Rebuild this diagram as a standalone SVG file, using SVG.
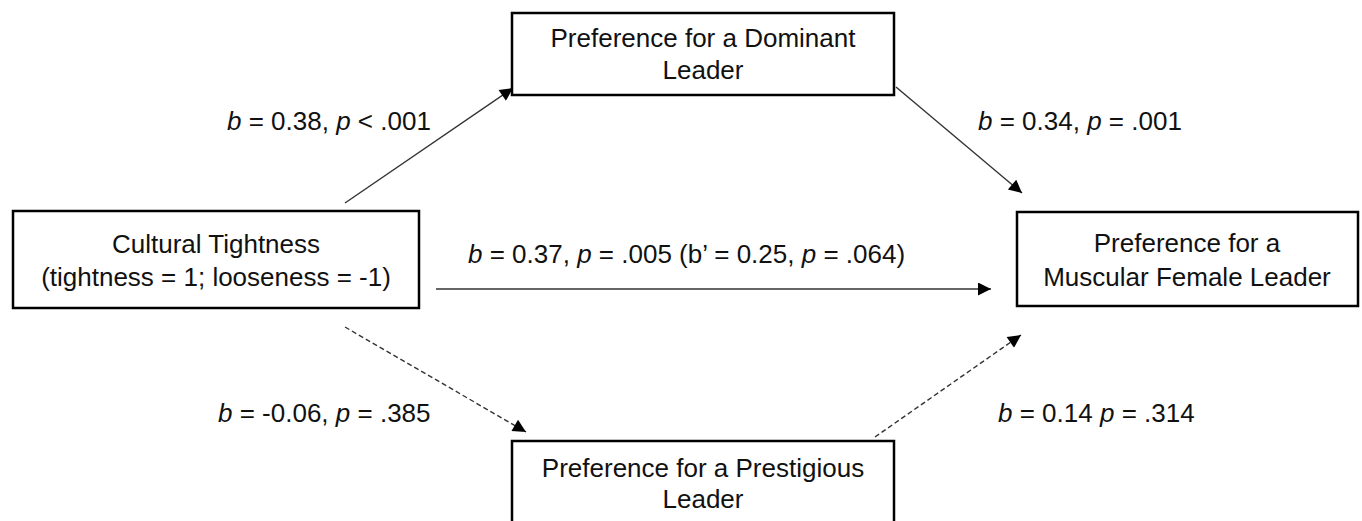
<svg xmlns="http://www.w3.org/2000/svg" width="1362" height="521" viewBox="0 0 1362 521">
<style>
  .box { fill: #fff; stroke: #000; stroke-width: 2.5; }
  .t { font-family: "Liberation Sans", Arial, sans-serif; font-size: 26px; fill: #111; }
  .c { text-anchor: middle; }
  .i { font-style: italic; }
  .ln { stroke: #333; stroke-width: 1.4; fill: none; }
  .dash { stroke-dasharray: 5 3; }
</style>
<defs>
  <marker id="ah" viewBox="0 0 10 10" refX="10" refY="5" markerUnits="userSpaceOnUse" markerWidth="17" markerHeight="13" orient="auto">
    <path d="M0,0 L10,5 L0,10 z" fill="#000"/>
  </marker>
</defs>
<g id="connectors">
  <line class="ln" x1="345" y1="203" x2="513" y2="88" marker-end="url(#ah)"/>
  <line class="ln" x1="896" y1="87" x2="1022" y2="193" marker-end="url(#ah)"/>
  <line class="ln" x1="436" y1="289" x2="991" y2="289" marker-end="url(#ah)"/>
  <line class="ln dash" x1="345" y1="327" x2="526" y2="432" marker-end="url(#ah)"/>
  <line class="ln dash" x1="875" y1="437" x2="1021" y2="335" marker-end="url(#ah)"/>
</g>
<g id="labels">
  <text class="t" x="227" y="130"><tspan class="i">b</tspan> = 0.38, <tspan class="i">p</tspan> &lt; .001</text>
  <text class="t" x="978" y="130"><tspan class="i">b</tspan> = 0.34, <tspan class="i">p</tspan> = .001</text>
  <text class="t" x="468" y="263"><tspan class="i">b</tspan> = 0.37, <tspan class="i">p</tspan> = .005 (b’ = 0.25, <tspan class="i">p</tspan> = .064)</text>
  <text class="t" x="218" y="422"><tspan class="i">b</tspan> = -0.06, <tspan class="i">p</tspan> = .385</text>
  <text class="t" x="998" y="422"><tspan class="i">b</tspan> = 0.14 <tspan class="i">p</tspan> = .314</text>
</g>
<g id="node-dominant">
  <rect class="box" x="512" y="13" width="382" height="82"/>
  <text class="t c" x="703" y="47">Preference for a Dominant</text>
  <text class="t c" x="703" y="79">Leader</text>
</g>
<g id="node-prestigious">
  <rect class="box" x="512" y="441" width="382" height="90"/>
  <text class="t c" x="703" y="477">Preference for a Prestigious</text>
  <text class="t c" x="703" y="508">Leader</text>
</g>
<g id="node-tightness">
  <rect class="box" x="13" y="211" width="406" height="97"/>
  <text class="t c" x="216" y="253">Cultural Tightness</text>
  <text class="t c" x="216" y="286">(tightness = 1; looseness = -1)</text>
</g>
<g id="node-muscular">
  <rect class="box" x="1017" y="212" width="341" height="94"/>
  <text class="t c" x="1187" y="252">Preference for a</text>
  <text class="t c" x="1187" y="286">Muscular Female Leader</text>
</g>
</svg>
